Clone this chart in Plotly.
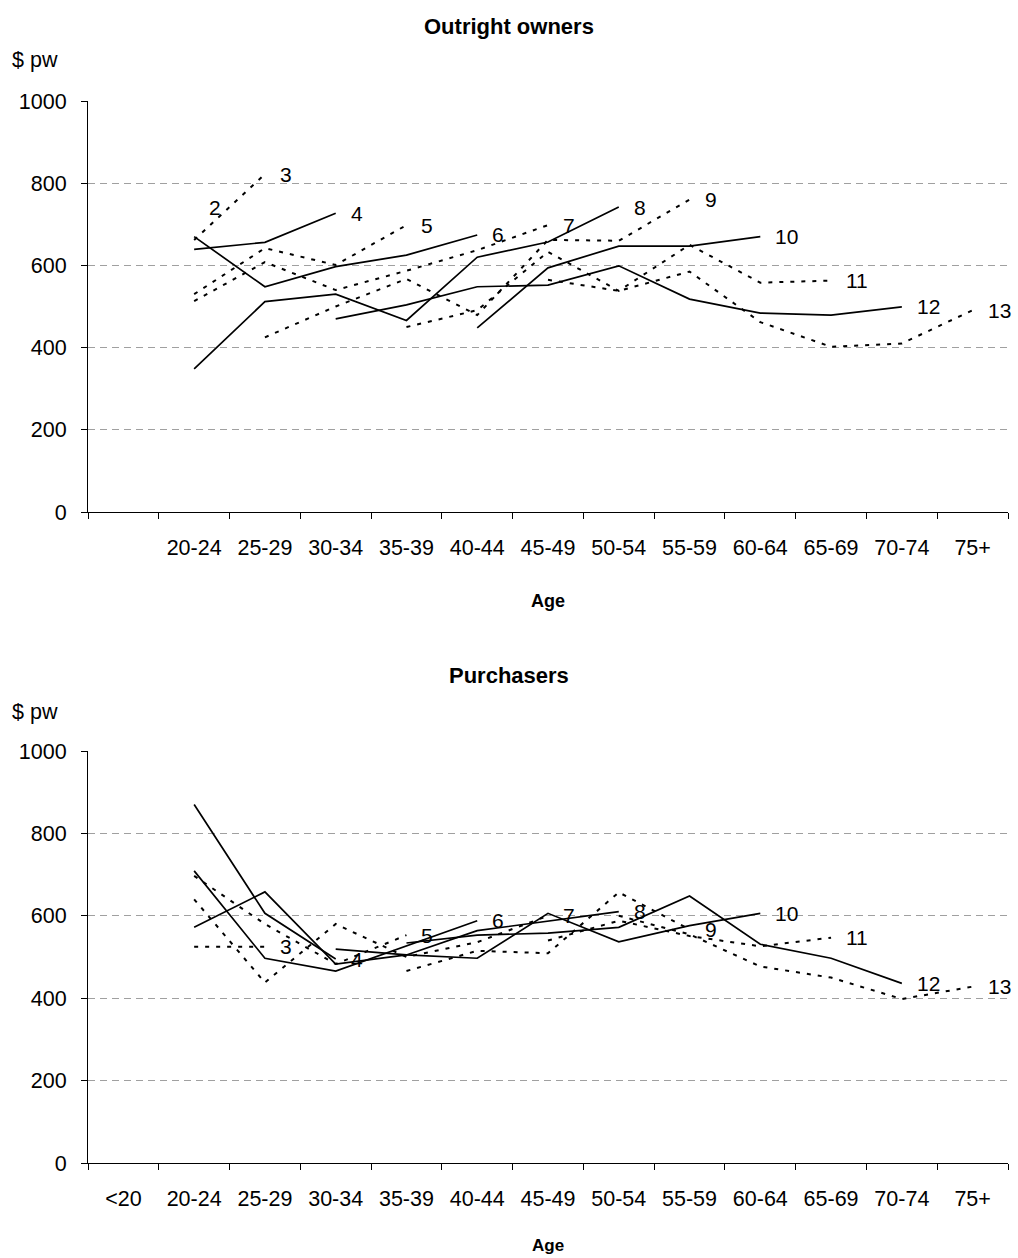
import plotly.graph_objects as go

ages = ["<20", "20-24", "25-29", "30-34", "35-39", "40-44", "45-49",
        "50-54", "55-59", "60-64", "65-69", "70-74", "75+"]
owners_tick_labels = ["", "20-24", "25-29", "30-34", "35-39", "40-44", "45-49",
                      "50-54", "55-59", "60-64", "65-69", "70-74", "75+"]
purchasers_tick_labels = ages
y_ticks = [0, 200, 400, 600, 800, 1000]

# Outright owners: cohort -> (first age group, values)
owners_c2 = ("20-24", [740])
owners_c3 = ("20-24", [662, 822])
owners_c4 = ("20-24", [639, 656, 727])
owners_c5 = ("20-24", [530, 642, 601, 698])
owners_c6 = ("20-24", [670, 548, 597, 625, 674])
owners_c7 = ("20-24", [513, 608, 540, 587, 637, 698])
owners_c8 = ("20-24", [348, 512, 530, 466, 620, 657, 742])
owners_c9 = ("25-29", [425, 500, 567, 479, 662, 660, 760])
owners_c10 = ("40-44", [448, 594, 647, 647, 670])
owners_c11 = ("35-39", [450, 491, 633, 538, 650, 558, 563])
owners_c12 = ("30-34", [470, 504, 548, 552, 599, 518, 484, 479, 499])
owners_c13 = ("45-49", [565, 538, 585, 462, 402, 410, 491])

# Purchasers
purch_c3 = ("20-24", [525, 525])
purch_c4 = ("20-24", [870, 606, 495])
purch_c5 = ("20-24", [697, 580, 483, 553])
purch_c6 = ("20-24", [709, 497, 466, 527, 588])
purch_c7 = ("20-24", [640, 438, 580, 500, 536, 600])
purch_c8 = ("20-24", [572, 658, 483, 505, 564, 587, 610])
purch_c9 = ("35-39", [466, 515, 509, 657, 567])
purch_c10 = ("30-34", [519, 505, 497, 606, 537, 576, 606])
purch_c11 = ("45-49", [540, 588, 551, 526, 547])
purch_c12 = ("35-39", [534, 553, 558, 572, 648, 531, 497, 436])
purch_c13 = ("50-54", [600, 555, 477, 450, 398, 428])

owners = {2: owners_c2, 3: owners_c3, 4: owners_c4, 5: owners_c5, 6: owners_c6,
          7: owners_c7, 8: owners_c8, 9: owners_c9, 10: owners_c10,
          11: owners_c11, 12: owners_c12, 13: owners_c13}
purchasers = {3: purch_c3, 4: purch_c4, 5: purch_c5, 6: purch_c6, 7: purch_c7,
              8: purch_c8, 9: purch_c9, 10: purch_c10, 11: purch_c11,
              12: purch_c12, 13: purch_c13}

FONT = "Liberation Sans, Arial, sans-serif"
fig = go.Figure()


def add_panel(data, xa, ya):
    for k, (start, vals) in data.items():
        i0 = ages.index(start)
        xs = ages[i0:i0 + len(vals)]
        odd = k % 2 == 1
        fig.add_trace(go.Scatter(
            x=xs, y=vals, mode="lines", xaxis=xa, yaxis=ya, showlegend=False,
            line=dict(color="black", width=2 if odd else 1.7,
                      dash="4px,7px" if odd else "solid"),
            hoverinfo="skip"))
        fig.add_annotation(x=xs[-1], y=vals[-1], xref=xa, yref=ya,
                           text=str(k), showarrow=False, xanchor="left",
                           xshift=13, font=dict(size=21, color="black",
                                                family=FONT))


add_panel(owners, "x", "y")
add_panel(purchasers, "x2", "y2")

axis_common = dict(showline=True, linecolor="black", linewidth=1,
                   ticks="outside", ticklen=6, tickcolor="black",
                   tickfont=dict(size=21.5, color="black", family=FONT),
                   zeroline=False)
xcommon = dict(type="category", categoryorder="array", categoryarray=ages,
               range=[-0.5, 12.5], tickson="boundaries", showgrid=False,
               tickmode="array", tickvals=ages, ticklabelstandoff=16,
               **axis_common)
ycommon = dict(range=[0, 1000], tickvals=y_ticks, showgrid=True,
               gridcolor="#a0a0a0", griddash="7px,5px", gridwidth=1,
               ticklabelstandoff=10, **axis_common)

H = 1258
t, b = 101, 95
ph = H - t - b
top_dom = [(1163 - 512) / ph, 1.0]
bot_dom = [0.0, (1163 - 751) / ph]

fig.update_layout(
    width=1018, height=H,
    margin=dict(l=88, r=10, t=t, b=b),
    paper_bgcolor="white", plot_bgcolor="white",
    font=dict(family=FONT, color="black"),
    xaxis=dict(domain=[0, 1], anchor="y", ticktext=owners_tick_labels, **xcommon),
    yaxis=dict(domain=top_dom, anchor="x", **ycommon),
    xaxis2=dict(domain=[0, 1], anchor="y2", ticktext=purchasers_tick_labels, **xcommon),
    yaxis2=dict(domain=bot_dom, anchor="x2", **ycommon),
)


def ypaper(px):
    return (H - b - px) / ph


texts = [
    ("<b>Outright owners</b>", 509, 26, 22, "center"),
    ("<b>Purchasers</b>", 509, 675, 22, "center"),
    ("$ pw", 10, 60, 21.5, "left"),
    ("$ pw", 10, 712, 21.5, "left"),
    ("<b>Age</b>", 548, 601, 18, "center"),
    ("<b>Age</b>", 548, 1245, 17, "center"),
]
for txt, xp, yp, sz, anc in texts:
    fig.add_annotation(text=txt, xref="paper", yref="paper",
                       x=(xp - 88) / (1018 - 98), y=ypaper(yp),
                       xanchor=anc, yanchor="middle", showarrow=False,
                       font=dict(size=sz, color="black", family=FONT))

fig.write_html("out.html", config={"displayModeBar": False},
               post_script="document.body.style.margin='0';"
                           "document.body.style.overflow='hidden';")
